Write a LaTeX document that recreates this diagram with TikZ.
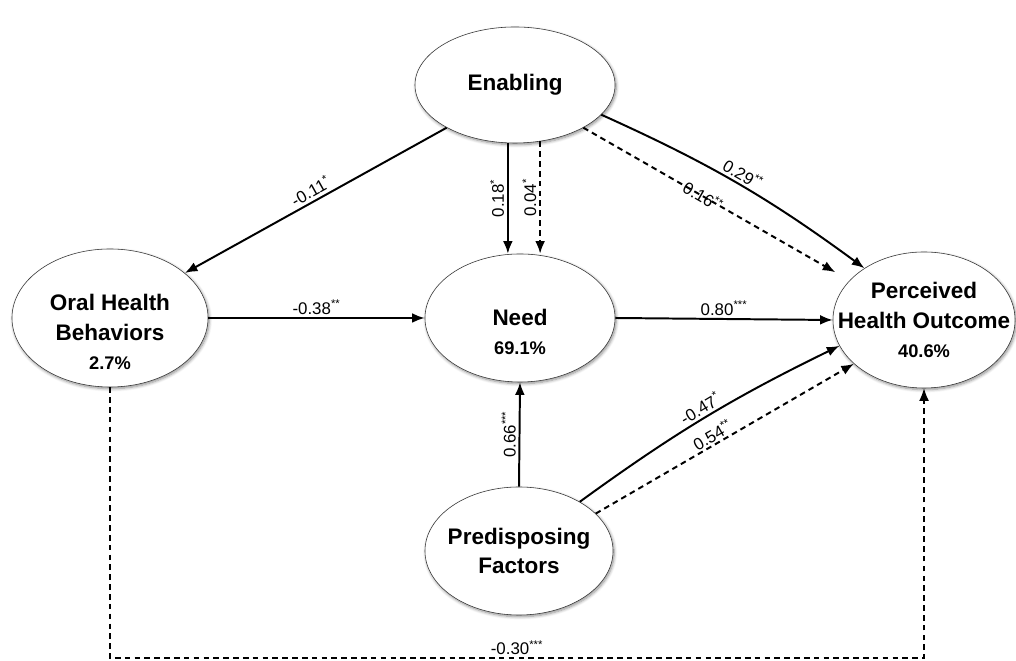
\documentclass[tikz,border=0pt]{standalone}
\usepackage{fontspec}
\setmainfont{Liberation Sans}
\usetikzlibrary{shapes.geometric, arrows.meta, shadows.blur}

\newcommand{\share}[1]{{\fontsize{13}{16}\selectfont #1}}

\begin{document}
\begin{tikzpicture}[
	x=0.025cm, y=0.025cm,
	nodes = {
		align = center
	},
	lines/.style={
		line width=1.4pt,
		>={Latex[length=9pt,width=7pt]}
	},
	dashlines/.style={
		lines,
		dash pattern=on 4pt off 3pt
	},
	looplines/.style={
		lines,
		line width=0.8pt,
		dash pattern=on 4pt off 3pt
	},
	var/.style={
		ellipse,
		draw=black!80,
		fill=white,
		inner sep=0pt,
		blur shadow={shadow xshift=0.8pt, shadow yshift=-1.2pt,
			shadow blur steps=6, shadow opacity=45}
	},
	vartext/.style={
		font=\fontsize{16}{21}\selectfont\bfseries,
		inner sep=0pt
	},
	coef/.style={
		font=\fontsize{12}{14}\selectfont,
		inner sep=2pt
	}
]
	\useasboundingbox (0,0) rectangle (1016,661);

	\node[var, minimum width=5cm, minimum height=2.9cm,
		label={[vartext]center:Enabling}] (enabling) at (515,576) {};

	\node[var, minimum width=4.9cm, minimum height=3.45cm,
		label={[vartext, yshift=-10pt]center:{Oral Health\\
		Behaviors\\
		\share{2.7\%}}}] (behav) at (110,343) {};

	\node[var, minimum width=4.75cm, minimum height=3.2cm,
		label={[vartext, yshift=-10pt]center:{Need\\
		\share{69.1\%}}}] (need) at (520,343) {};

	\node[var, minimum width=4.55cm, minimum height=3.4cm,
		label={[vartext]center:{Perceived\\
		Health Outcome\\
		\share{40.6\%}}}] (outcome) at (924,341) {};

	\node[var, minimum width=4.7cm, minimum height=3.2cm,
		label={[vartext]center:{Predisposing\\
		Factors}}] (predis) at (519,110) {};

	\coordinate (loop) at (517,3);
	%%
	\draw[lines,->] (enabling.212) -- (behav.31)
		node[coef, midway, above, sloped] {-0.11\textsuperscript{*}};
	\draw[lines,->] (enabling.-97) -- (enabling.-97 |- need.north)
		node[coef, midway, anchor=south, rotate=90] {0.18\textsuperscript{*}};
	\draw[dashlines,->] (enabling.-66) -- (enabling.-66 |- need.north)
		node[coef, midway, anchor=south, rotate=90] {0.04\textsuperscript{*}};
	\draw[lines,->] (enabling.-19) to[bend left=6]
		node[coef, midway, above, sloped] {0.29\textsuperscript{**}} (outcome.139);
	\draw[dashlines,->,shorten >=0.41cm] (enabling.-32) -- (outcome.152)
		node[coef, pos=0.45, sloped] {0.16\textsuperscript{**}};

	\draw[lines,->] (behav.east) -- (need.west)
		node[coef, midway, above] {-0.38\textsuperscript{**}};
	\draw[lines,->] (need.east) -- (outcome.west)
		node[coef, midway, above] {0.80\textsuperscript{***}};

	\draw[lines,->] (predis.north) -- (need.south)
		node[coef, midway, anchor=south, rotate=90] {0.66\textsuperscript{***}};
	\draw[lines,->] (predis.39) to[bend left=5]
		node[coef, midway, above, sloped] {-0.47\textsuperscript{*}} (outcome.197);
	\draw[dashlines,->] (predis.26) -- (outcome.212)
		node[coef, pos=0.47, above, sloped, inner sep=1pt] {0.54\textsuperscript{**}};

	\draw[looplines,->] (behav.south) -- (behav.south |- loop) -- (outcome.south |- loop)
		node[coef, midway, above] {-0.30\textsuperscript{***}} -- (outcome.south);
\end{tikzpicture}
\end{document}
